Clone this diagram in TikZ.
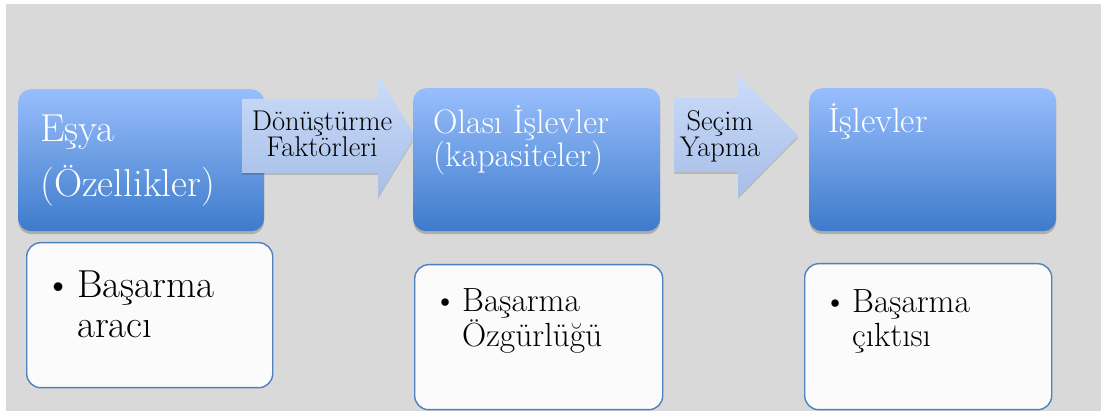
\documentclass[tikz,border=0pt]{standalone}
\usepackage{fontspec}
\usetikzlibrary{shadows}
\definecolor{bggray}{HTML}{D9D9D9}
\definecolor{stagetop}{HTML}{98BEFC}
\definecolor{stagebot}{HTML}{3D7BCB}
\definecolor{flowtop}{HTML}{CADCF9}
\definecolor{flowbot}{HTML}{A7BEE7}
\definecolor{notefill}{HTML}{FBFBFB}
\definecolor{noteline}{HTML}{4F81BD}
\begin{document}
\begin{tikzpicture}[x=1pt,y=-1pt,line join=round,
  stage/.style={rectangle,rounded corners=13pt,inner sep=0pt,anchor=north west,
    top color=stagetop,bottom color=stagebot,
    drop shadow={shadow xshift=0pt,shadow yshift=-3pt,opacity=0.2,fill=black}},
  note/.style={rectangle,rounded corners=14pt,inner sep=0pt,anchor=north west,
    draw=noteline,line width=1.4pt,fill=notefill},
  flow/.style={top color=flowtop,bottom color=flowbot,
    drop shadow={shadow xshift=0pt,shadow yshift=-2pt,opacity=0.15,fill=black}},
  stagetext/.style={anchor=base west,align=left,inner sep=0pt,text=white},
  notetext/.style={anchor=base west,align=left,inner sep=0pt},
  flowtext/.style={anchor=base,align=center,inner sep=0pt,font=\fontsize{28.5}{26}\selectfont}]
  \useasboundingbox (0,0) rectangle (1103,411);
  \fill[bggray] (6,4) rectangle (1101,411);
  % top row
  \node[stage,minimum width=246,minimum height=142] (esya) at (18,89) {};
  \path[flow] (242,99) -- (378,99) -- (378,75) -- (415,136) -- (378,197) -- (378,173) -- (242,173) -- cycle;
  \node[stage,minimum width=247,minimum height=143] (olasi) at (413,88) {};
  \path[flow] (674,98) -- (738,98) -- (738,75) -- (798,136) -- (738,197) -- (738,172) -- (674,172) -- cycle;
  \node[stage,minimum width=247,minimum height=143] (islev) at (809,88) {};
  \node[stagetext,font=\fontsize{39}{55}\selectfont] (esya-t) at (40,197) {Eşya\\(Özellikler)};
  \node[stagetext,font=\fontsize{34}{33}\selectfont] (olasi-t) at (433,167) {Olası İşlevler\\(kapasiteler)};
  \node[stagetext,font=\fontsize{35}{33}\selectfont] (islev-t) at (828,133) {İşlevler};
  \node[flowtext] (donusum-t) at (322,157) {Dönüştürme\\Faktörleri};
  \node[flowtext] (secim-t) at (720,157) {Seçim\\Yapma};
  % bottom row
  \node[note,minimum width=246,minimum height=145] (arac) at (26,242) {};
  \node[note,minimum width=248,minimum height=145] (ozgur) at (414,264) {};
  \node[note,minimum width=247,minimum height=146] (cikti) at (804,263) {};
  \node[notetext,font=\fontsize{39}{40}\selectfont] (arac-t) at (77,338) {\llap{\textbullet\hspace{5pt}}Başarma\\aracı};
  \node[notetext,font=\fontsize{33.5}{35}\selectfont] (ozgur-t) at (462,347) {\llap{\textbullet\hspace{5pt}}Başarma\\Özgürlüğü};
  \node[notetext,font=\fontsize{33.5}{34}\selectfont] (cikti-t) at (852,347) {\llap{\textbullet\hspace{5pt}}Başarma\\çıktısı};
\end{tikzpicture}
\end{document}
